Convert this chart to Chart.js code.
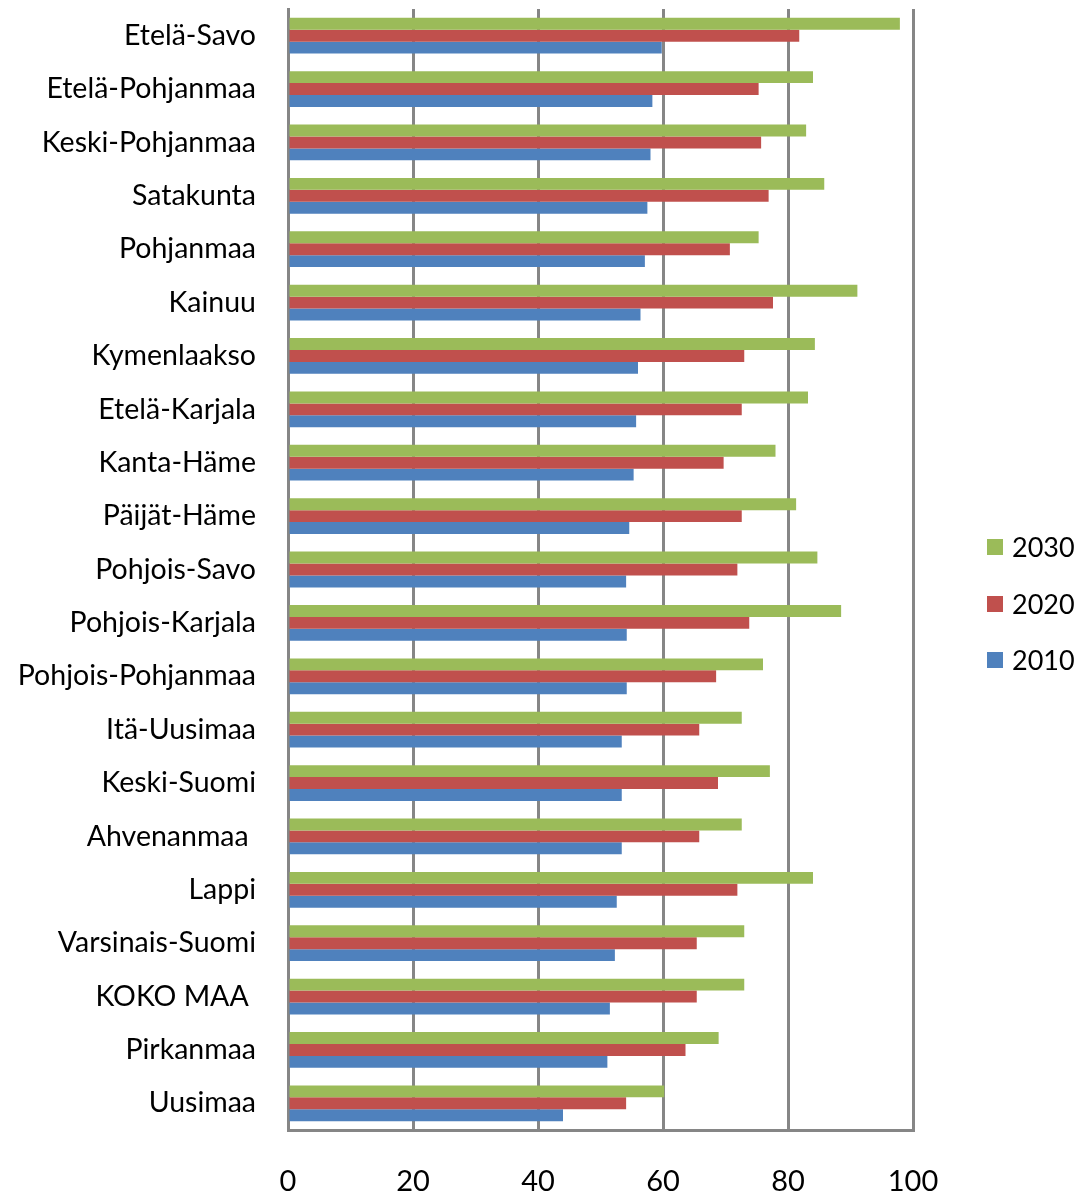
<!DOCTYPE html>
<html>
<head>
<meta charset="utf-8">
<script src="https://cdn.jsdelivr.net/npm/chart.js@4/dist/chart.umd.min.js"></script>
<style>
  html, body { margin: 0; padding: 0; background: #fff; }
  #wrap { width: 1078px; height: 1195px; position: relative; }
</style>
</head>
<body>
<div id="wrap"><canvas id="chart"></canvas></div>
<script>
const regions = ['Etelä-Savo', 'Etelä-Pohjanmaa', 'Keski-Pohjanmaa', 'Satakunta', 'Pohjanmaa',
  'Kainuu', 'Kymenlaakso', 'Etelä-Karjala', 'Kanta-Häme', 'Päijät-Häme', 'Pohjois-Savo',
  'Pohjois-Karjala', 'Pohjois-Pohjanmaa', 'Itä-Uusimaa', 'Keski-Suomi', 'Ahvenanmaa ',
  'Lappi', 'Varsinais-Suomi', 'KOKO MAA ', 'Pirkanmaa', 'Uusimaa'];

const v2030 = [97.9, 84.0, 82.9, 85.8, 75.3, 91.1, 84.3, 83.2, 78.0, 81.3, 84.7,
  88.5, 76.0, 72.6, 77.1, 72.6, 84.0, 73.0, 73.0, 68.9, 60.2];
const v2020 = [81.8, 75.3, 75.7, 76.9, 70.7, 77.6, 73.0, 72.6, 69.7, 72.6, 71.9,
  73.8, 68.5, 65.8, 68.8, 65.8, 71.9, 65.4, 65.4, 63.6, 54.1];
const v2010 = [59.8, 58.3, 58.0, 57.5, 57.1, 56.4, 56.0, 55.7, 55.3, 54.6, 54.1,
  54.2, 54.2, 53.4, 53.4, 53.4, 52.6, 52.3, 51.5, 51.1, 44.0];

const xTicks = [0, 20, 40, 60, 80, 100];
const seriesNames = ['2030', '2020', '2010'];
const seriesColors = ['#9BBB59', '#C0504D', '#4F81BD'];

const FONT = 'Lato';
const gridGrey = '#868686';

// legend drawn at the right side, like the spreadsheet original
const sideLegend = {
  id: 'sideLegend',
  afterDraw(chart) {
    const c = chart.ctx;
    c.save();
    c.font = '27px ' + FONT;
    c.textBaseline = 'middle';
    const ys = [547, 604, 660];
    chart.data.datasets.forEach((ds, i) => {
      c.fillStyle = ds.backgroundColor;
      c.fillRect(987, ys[i] - 8, 16, 16);
      c.fillStyle = '#000';
      c.fillText(ds.label, 1012, ys[i] + 1);
    });
    c.restore();
  }
};

new Chart(document.getElementById('chart'), {
  type: 'bar',
  data: {
    labels: regions,
    datasets: [
      { label: seriesNames[0], data: v2030, backgroundColor: seriesColors[0] },
      { label: seriesNames[1], data: v2020, backgroundColor: seriesColors[1] },
      { label: seriesNames[2], data: v2010, backgroundColor: seriesColors[2] }
    ]
  },
  options: {
    indexAxis: 'y',
    responsive: true,
    maintainAspectRatio: false,
    animation: false,
    layout: { padding: { top: 9, right: 165, bottom: 0, left: 0 } },
    datasets: { bar: { categoryPercentage: 0.67, barPercentage: 1.0 } },
    plugins: { legend: { display: false }, tooltip: { enabled: false } },
    scales: {
      x: {
        min: 0, max: 100,
        afterBuildTicks: (s) => { s.ticks = xTicks.map(v => ({ value: v })); },
        afterFit: (s) => { s.height = 65; },
        grid: { color: gridGrey, lineWidth: 3, drawTicks: false },
        border: { color: gridGrey, width: 3 },
        ticks: { color: '#000', padding: 34, font: { family: FONT, size: 29 } }
      },
      y: {
        afterFit: (s) => { s.width = 288; s.paddingTop = 0; s.paddingBottom = 0; },
        grid: { display: false, drawTicks: false },
        border: { color: gridGrey, width: 3 },
        ticks: { color: '#000', padding: 32, autoSkip: false, font: { family: FONT, size: 28.5 } }
      }
    }
  },
  plugins: [sideLegend]
});
</script>
</body>
</html>
